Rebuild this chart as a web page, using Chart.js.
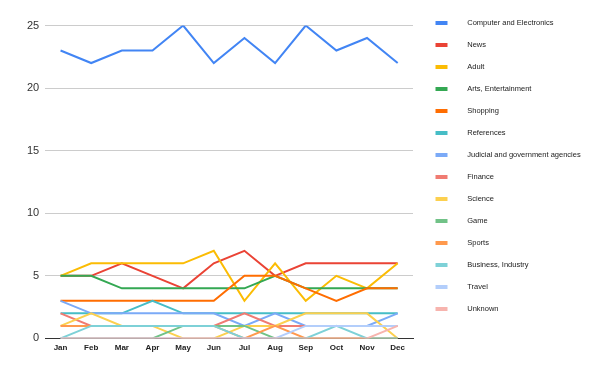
<!DOCTYPE html>
<html>
<head>
<meta charset="utf-8">
<script src="https://cdn.jsdelivr.net/npm/chart.js@4"></script>
<style>
html,body{margin:0;padding:0;background:#fff;}
#wrap{width:600px;height:371px;position:relative;}
</style>
</head>
<body>
<div id="wrap"><canvas id="c"></canvas></div>
<script>
const months = ["Jan","Feb","Mar","Apr","May","Jun","Jul","Aug","Sep","Oct","Nov","Dec"];
const seriesNames = ["Computer and Electronics","News","Adult","Arts, Entertainment","Shopping","References","Judicial and government agencies","Finance","Science","Game","Sports","Business, Industry","Travel","Unknown"];
const seriesColors = ["#4285F4","#EA4335","#FBBC04","#34A853","#FF6D01","#46BDC6","#7BAAF7","#F07B72","#FCD04F","#71C287","#FF994D","#7ED1D7","#B3CEFB","#F7B4AE"];
const computerElectronics = [23,22,23,23,25,22,24,22,25,23,24,22];
const news        = [5,5,6,5,4,6,7,5,6,6,6,6];
const adult       = [5,6,6,6,6,7,3,6,3,5,4,6];
const arts        = [5,5,4,4,4,4,4,5,4,4,4,4];
const shopping    = [3,3,3,3,3,3,5,5,4,3,4,4];
const references  = [2,2,2,3,2,2,2,2,2,2,2,2];
const judicial    = [3,2,2,2,2,2,1,2,1,1,1,2];
const finance     = [2,1,1,1,1,1,2,1,1,1,1,1];
const science     = [1,2,1,1,0,0,1,1,2,2,2,0];
const game        = [0,0,0,0,1,1,1,0,0,0,0,0];
const sports      = [1,1,1,1,1,1,0,1,0,0,0,0];
const business    = [0,1,1,1,1,1,0,0,0,1,0,0];
const travel      = [0,0,0,0,0,0,0,0,1,1,1,1];
const unknown     = [0,0,0,0,0,0,0,0,0,0,0,1];
const yTicks = [0,5,10,15,20,25];

const seriesData = [computerElectronics,news,adult,arts,shopping,references,judicial,finance,science,game,sports,business,travel,unknown];

function legendMarker(color){
  const cv = document.createElement('canvas');
  cv.width = 36; cv.height = 4;
  const g = cv.getContext('2d');
  g.fillStyle = color;
  g.fillRect(8,0,12,4);
  return cv;
}

const datasets = seriesNames.map((name,i)=>({
  label: name,
  data: seriesData[i],
  borderColor: seriesColors[i],
  backgroundColor: seriesColors[i],
  borderWidth: 2,
  pointRadius: 0,
  pointHoverRadius: 0,
  tension: 0,
  fill: false,
  order: -i,
  pointStyle: legendMarker(seriesColors[i])
}));

const legendWidthPlugin = {
  id: 'legendWidth',
  afterInit(chart){
    const lg = chart.legend;
    if (!lg) return;
    const orig = lg.fit.bind(lg);
    lg.fit = function(){ orig(); this.width = 187; };
  }
};

new Chart(document.getElementById('c'), {
  type: 'line',
  data: { labels: months, datasets },
  plugins: [legendWidthPlugin],
  options: {
    responsive: true,
    maintainAspectRatio: false,
    animation: false,
    events: [],
    layout: { padding: { left: 21, top: 5, bottom: 13, right: 0 } },
    plugins: {
      tooltip: { enabled: false },
      legend: {
        position: 'right',
        align: 'start',
        labels: {
          usePointStyle: true,
          pointStyleWidth: 36,
          boxHeight: 4,
          padding: 14.5,
          color: '#222',
          font: { family: 'Liberation Sans, Arial, sans-serif', size: 7.5 },
          sort: (a,b) => a.datasetIndex - b.datasetIndex
        }
      }
    },
    scales: {
      x: {
        offset: true,
        grid: { display: false, drawTicks: false },
        border: { display: true, color: '#333', width: 1 },
        ticks: { color: '#222', padding: 5, font: { family: 'Liberation Sans, Arial, sans-serif', size: 8, weight: 'bold' }, maxRotation: 0 }
      },
      y: {
        min: 0, max: 25,
        afterBuildTicks: (s) => { s.ticks = yTicks.map(v => ({ value: v })); },
        afterFit: (s) => { s.paddingTop = 25.5; },
        grid: { color: '#cccccc', drawTicks: false },
        border: { display: false },
        ticks: { color: '#333', padding: 6, font: { family: 'Liberation Sans, Arial, sans-serif', size: 11 } }
      }
    }
  }
});
</script>
</body>
</html>
